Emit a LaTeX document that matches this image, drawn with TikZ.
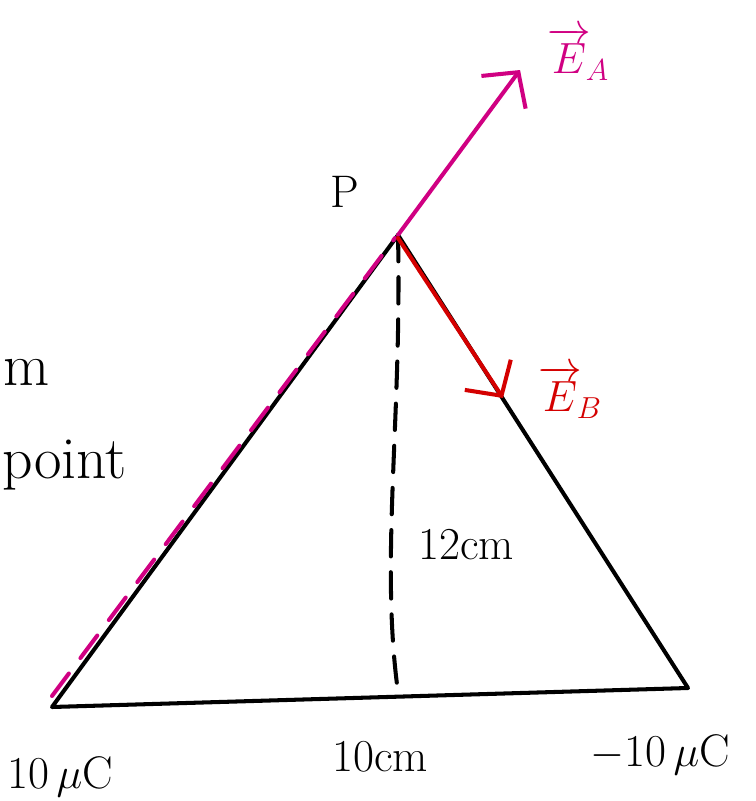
\documentclass[tikz,border=0pt]{standalone}
\usepackage{amsmath}
\usepackage{tikz}
\usetikzlibrary{arrows.meta,calc,positioning}
\definecolor{fieldA}{RGB}{208,0,130}
\definecolor{fieldB}{RGB}{212,0,0}
\tikzset{side/.style={line width=2.3pt,line cap=round,line join=round},
  alt/.style={side,dash pattern=on 15pt off 9pt},
  lab/.style={font=\fontsize{26}{30}\selectfont,inner sep=0pt},
  note/.style={font=\fontsize{34}{38}\selectfont,inner sep=0pt},
  efield/.style={-{Straight Barb[length=5mm,width=11mm]},line width=2.3pt,line cap=round}}

\begin{document}
\begin{tikzpicture}[x=0.02cm,y=-0.02cm]
\useasboundingbox (0,0) rectangle (755,801);
\coordinate (qa) at (52,707);
\coordinate (qb) at (688,688);
\coordinate (P) at (398,235);
\coordinate (foot) at (398,692);
\coordinate (pa) at (52,696);
\coordinate (ea) at (520,70);
\coordinate (eb) at (503,398);
% triangle and height
\draw[side] (qa) -- (P) -- (qb) -- cycle;
\draw[alt] (P) .. controls (402,420) and (380,560) .. (foot);
% fields at P
\draw[side,fieldA,dash pattern=on 16pt off 11pt] (pa) -- ($(P)+(-3,3)$);
\draw[efield,fieldA] (P) -- (ea);
\draw[efield,fieldB] ($(P)+(0,3)$) -- (eb);
% labels
\node[lab] (lp) at (345,192) {P};
\node[lab,fieldA] (lea) at (578,54) {$\overrightarrow{E}_{\!A}$};
\node[lab,fieldB] (leb) at (570,392) {$\overrightarrow{E}_{\!B}$};
\node[lab] (lh) at (466,545) {12cm};
\node[lab] (lqa) at (60,777) {10\,$\mu$C};
\node[lab] (lbase) at (380,757) {10cm};
\node[lab] (lqb) at (660,755) {$-$10\,$\mu$C};
\node[note,anchor=base east] (lm) at (50,385) {m};
\node[note,anchor=base west] (lpt) at (2,478) {point};
\end{tikzpicture}
\end{document}
